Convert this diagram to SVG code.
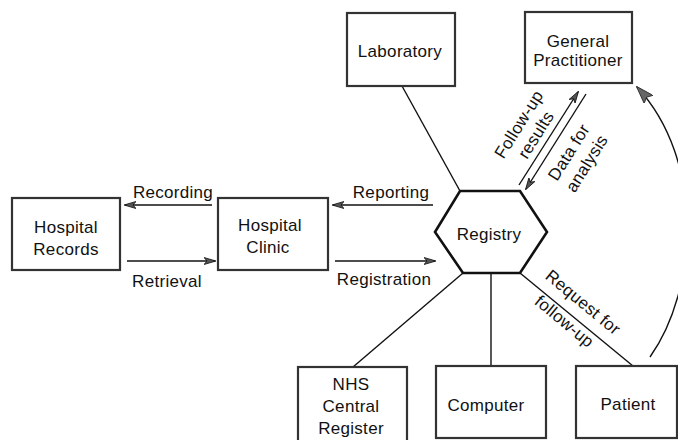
<svg xmlns="http://www.w3.org/2000/svg" width="678" height="440" viewBox="0 0 678 440">
<style>
.box{fill:#fff;stroke:#333;stroke-width:2.2}
.hex{fill:#fff;stroke:#111;stroke-width:2.6;stroke-linejoin:miter}
.t{font-family:"Liberation Sans",Arial,sans-serif;font-size:17px;fill:#111;text-anchor:middle;letter-spacing:0.3px}
.ln{fill:none;stroke:#111;stroke-width:1.4}
.ar{fill:none;stroke:#111;stroke-width:1.4;marker-end:url(#ah)}
</style>
<defs>
<marker id="ah" viewBox="0 0 12 8" refX="11" refY="4" markerWidth="12" markerHeight="8" markerUnits="userSpaceOnUse" orient="auto">
<path d="M0,0.5 L12,4 L0,7.5 L3,4 z" fill="#555" stroke="#111" stroke-width="0.8"/>
</marker>
<marker id="ahb" viewBox="0 0 18 12" refX="17" refY="6" markerWidth="18" markerHeight="12" markerUnits="userSpaceOnUse" orient="auto">
<path d="M0,0 L18,6 L0,12 L3,6 z" fill="#666" stroke="#222" stroke-width="0.8"/>
</marker>
</defs>
<rect width="678" height="440" fill="#fff"/>
<g id="connectors">
<line class="ar" x1="212" y1="205" x2="125" y2="205"/>
<line class="ar" x1="127" y1="261" x2="215" y2="261"/>
<line class="ar" x1="433" y1="205" x2="333" y2="205"/>
<line class="ar" x1="335" y1="261" x2="435" y2="261"/>
<line class="ln" x1="402" y1="86" x2="460" y2="191"/>
<line class="ar" x1="519" y1="185" x2="578" y2="92"/>
<line class="ar" x1="586" y1="94" x2="526" y2="189"/>
<line class="ln" x1="463" y1="273" x2="353" y2="367"/>
<line class="ln" x1="491" y1="273" x2="491" y2="366"/>
<line class="ln" x1="520" y1="273" x2="633" y2="366"/>
<path class="ln" d="M650,357 C698,290 705,160 637,87" marker-end="url(#ahb)"/>
<text class="t" transform="translate(173,198)">Recording</text>
<text class="t" transform="translate(167,287)">Retrieval</text>
<text class="t" transform="translate(391,198)">Reporting</text>
<text class="t" transform="translate(384,285)">Registration</text>
<g transform="translate(528,130) rotate(-58)">
<text class="t" x="0" y="-5">Follow-up</text>
<text class="t" x="0" y="15">results</text>
</g>
<g transform="translate(578,158) rotate(-58)">
<text class="t" x="0" y="-5">Data for</text>
<text class="t" x="0" y="16">analysis</text>
</g>
<text class="t" transform="translate(582.5,303) rotate(39.5)" y="5">Request for</text>
<text class="t" transform="translate(564,322) rotate(39.5)" y="5">follow-up</text>
</g>
<g id="hospital-records">
<rect class="box" x="12" y="198" width="108" height="72"/>
<text class="t" x="66" y="233">Hospital</text>
<text class="t" x="66" y="255">Records</text>
</g>
<g id="hospital-clinic">
<rect class="box" x="218" y="198" width="110" height="72"/>
<text class="t" x="270" y="231">Hospital</text>
<text class="t" x="268" y="253">Clinic</text>
</g>
<g id="laboratory">
<rect class="box" x="347" y="13" width="108" height="73"/>
<text class="t" x="400" y="57">Laboratory</text>
</g>
<g id="general-practitioner">
<rect class="box" x="525" y="12" width="107" height="71"/>
<text class="t" x="578" y="47">General</text>
<text class="t" x="578" y="66">Practitioner</text>
</g>
<g id="registry">
<polygon class="hex" points="460,191 520,191 547,232 520,273 463,273 435,232"/>
<text class="t" x="489" y="240">Registry</text>
</g>
<g id="nhs-central-register">
<rect class="box" x="298" y="367" width="109" height="75"/>
<text class="t" x="351" y="390">NHS</text>
<text class="t" x="351" y="412">Central</text>
<text class="t" x="351" y="434">Register</text>
</g>
<g id="computer">
<rect class="box" x="436" y="366" width="110" height="72"/>
<text class="t" x="486" y="411">Computer</text>
</g>
<g id="patient">
<rect class="box" x="576" y="366" width="101" height="72"/>
<text class="t" x="628" y="410">Patient</text>
</g>
</svg>
